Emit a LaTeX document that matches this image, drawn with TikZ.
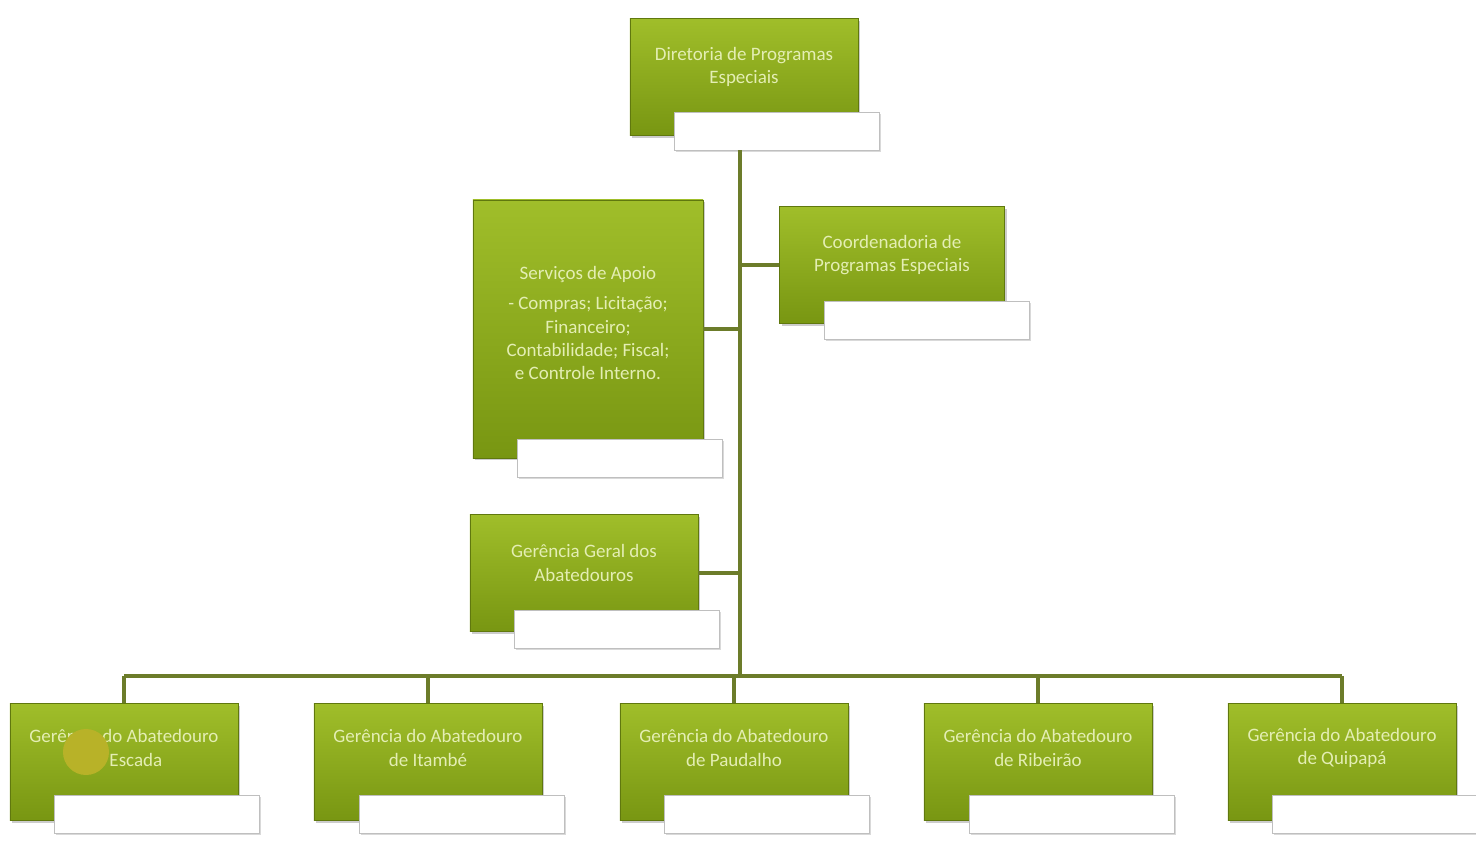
\documentclass[tikz,border=0pt]{standalone}
\usepackage{fontspec}
\setmainfont{Carlito}
\usetikzlibrary{shadows}

\definecolor{boxtop}{RGB}{160,190,42}
\definecolor{boxbot}{RGB}{120,150,18}
\definecolor{wire}{RGB}{108,124,42}
\definecolor{ink}{RGB}{228,238,180}
\definecolor{blot}{RGB}{184,178,40}

\tikzset{
  unit/.style={rectangle, minimum width=5.7cm, minimum height=2.925cm,
    top color=boxtop, bottom color=boxbot, draw=boxbot!80!black, line width=0.4pt,
    drop shadow={opacity=0.4, shadow xshift=1.5pt, shadow yshift=-1.5pt}},
  tag/.style={rectangle, minimum width=5.125cm, minimum height=0.95cm,
    fill=white, draw=black!25, line width=0.4pt,
    drop shadow={opacity=0.3, shadow xshift=1.2pt, shadow yshift=-1.2pt}},
  caption/.style={text=ink, align=center, yshift=0.25cm,
    font=\fontsize{13.5}{16.5}\selectfont},
  link/.style={draw=wire, line width=2.6pt},
  blotch/.style={circle, fill=blot, minimum size=1.15cm, inner sep=0pt}
}

\begin{document}
\begin{tikzpicture}[x=0.025cm, y=-0.025cm]
        \useasboundingbox (0,0) rectangle (1476,842);

        % Boxes
        \node[unit, label={[caption]center:{Diretoria de Programas\\Especiais}}] (dir) at (744,77) {};
        \node[tag] (dirtag) at (777,131) {};
        \node[unit, minimum width=5.75cm, minimum height=6.45cm,
              label={[caption, yshift=-0.1cm]center:{Serviços de Apoio\\[5pt]- Compras; Licitação;\\Financeiro;\\Contabilidade; Fiscal;\\e Controle Interno.}}] (apoio) at (588,329) {};
        \node[tag] (apoiotag) at (620,458) {};
        \node[unit, minimum width=5.625cm, label={[caption]center:{Coordenadoria de\\Programas Especiais}}] (coord) at (892,265) {};
        \node[tag] (coordtag) at (927,320) {};
        \node[unit, label={[caption]center:{Gerência Geral dos\\Abatedouros}}] (geral) at (584,573) {};
        \node[tag] (geraltag) at (617,629) {};

        \node[unit, label={[caption, yshift=0.1cm]center:{Gerência do Abatedouro\\de Escada}}] (ab1) at (124,762) {};
        \node[tag] (ab1tag) at (157,814) {};
        \node[unit, label={[caption, yshift=0.1cm]center:{Gerência do Abatedouro\\de Itambé}}] (ab2) at (428,762) {};
        \node[tag] (ab2tag) at (462,814) {};
        \node[unit, label={[caption, yshift=0.1cm]center:{Gerência do Abatedouro\\de Paudalho}}] (ab3) at (734,762) {};
        \node[tag] (ab3tag) at (767,814) {};
        \node[unit, label={[caption, yshift=0.1cm]center:{Gerência do Abatedouro\\de Ribeirão}}] (ab4) at (1038,762) {};
        \node[tag] (ab4tag) at (1072,814) {};
        \node[unit, label={[caption, yshift=0.1cm]center:{Gerência do Abatedouro\\de Quipapá}}] (ab5) at (1342,762) {};
        \node[tag] (ab5tag) at (1375,814) {};

        % the round stain on the first box
        \node[blotch] (spot) at (86,752) {};

        % Lines
        \coordinate (bus) at (740,676);
        \draw[link] (dirtag.south -| bus) -- (bus);
        \draw[link] (coord.west) -- (coord.west -| bus);
        \draw[link] (apoio.east) -- (apoio.east -| bus);
        \draw[link] (geral.east) -- (geral.east -| bus);
        \draw[link] (ab1.north |- bus) -- (ab5.north |- bus);
        \draw[link] (ab1.north |- bus) -- (ab1.north);
        \draw[link] (ab2.north |- bus) -- (ab2.north);
        \draw[link] (ab3.north |- bus) -- (ab3.north);
        \draw[link] (ab4.north |- bus) -- (ab4.north);
        \draw[link] (ab5.north |- bus) -- (ab5.north);
\end{tikzpicture}
\end{document}
